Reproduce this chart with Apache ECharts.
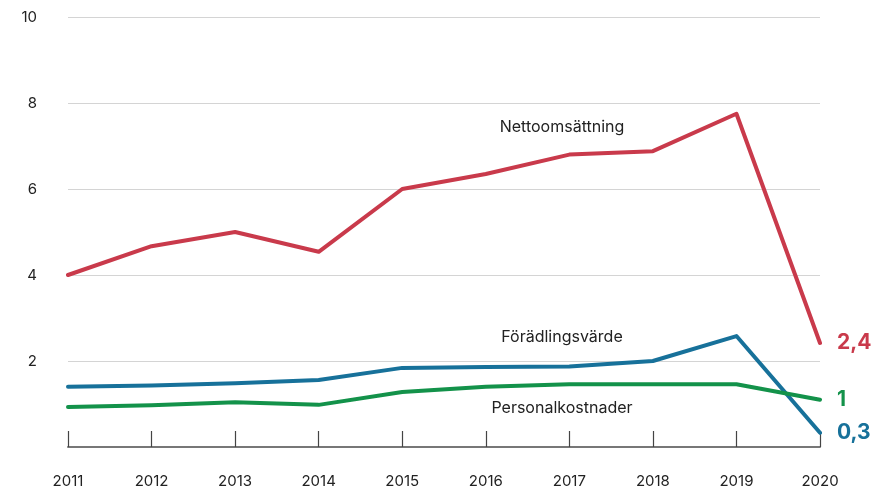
<!DOCTYPE html>
<html>
<head>
<meta charset="utf-8">
<script src="https://cdn.jsdelivr.net/npm/echarts@6/dist/echarts.min.js"></script>
<style>html,body{margin:0;padding:0;background:#fff;}#c{width:890px;height:489px;}</style>
</head>
<body>
<div id="c"></div>
<script>
var years = ['2011','2012','2013','2014','2015','2016','2017','2018','2019','2020'];
var nettoomsattning = [4.0, 4.67, 5.0, 4.54, 6.0, 6.35, 6.8, 6.88, 7.75, 2.42];
var foradlingsvarde = [1.4, 1.43, 1.48, 1.56, 1.84, 1.86, 1.87, 2.0, 2.58, 0.33];
var personalkostnader = [0.93, 0.97, 1.04, 0.98, 1.28, 1.4, 1.46, 1.46, 1.46, 1.1];
var endLabels = ['2,4', '0,3', '1'];
var seriesNames = ['Nettoomsättning', 'Förädlingsvärde', 'Personalkostnader'];
var colors = ['#c93a4b', '#17719a', '#13924a'];
var FONT = 'Inter, "Noto Sans", sans-serif';

var chart = echarts.init(document.getElementById('c'));
function mk(name, data, color, endText) {
  return {
    name: name, type: 'line', data: data, symbol: 'none', smooth: false,
    lineStyle: { color: color, width: 4, cap: 'round', join: 'round' },
    itemStyle: { color: color },
    endLabel: { show: true, formatter: function(){ return endText; }, color: color,
      fontFamily: FONT, fontWeight: 'bold', fontSize: 21, distance: 17 },
    emphasis: { disabled: true }, animation: false
  };
}
function nameLabel(text, x, y) {
  return { type: 'text', x: x, y: y, style: { text: text, fill: '#222', font: '16px ' + FONT,
    align: 'center', verticalAlign: 'middle' } };
}
chart.setOption({
  animation: false,
  grid: { left: 68, right: 70, top: 17, bottom: 42, containLabel: false },
  xAxis: {
    type: 'category', data: years, boundaryGap: false,
    axisLine: { show: true, lineStyle: { color: '#777', width: 2 } },
    axisTick: { show: true, inside: true, length: 16, lineStyle: { color: '#444', width: 1.2 } },
    axisLabel: { color: '#222', fontSize: 15, fontFamily: FONT, margin: 27 },
    splitLine: { show: false }
  },
  yAxis: {
    type: 'value', min: 0, max: 10, interval: 2,
    axisLine: { show: false }, axisTick: { show: false },
    axisLabel: { color: '#222', fontSize: 15, fontFamily: FONT, margin: 31,
      formatter: function(v){ return v === 0 ? '' : String(v); } },
    splitLine: { show: true, lineStyle: { color: '#d4d4d4', width: 1 } }
  },
  series: [
    mk(seriesNames[0], nettoomsattning, colors[0], endLabels[0]),
    mk(seriesNames[1], foradlingsvarde, colors[1], endLabels[1]),
    mk(seriesNames[2], personalkostnader, colors[2], endLabels[2])
  ],
  graphic: [
    nameLabel(seriesNames[0], 562, 127),
    nameLabel(seriesNames[1], 562, 337),
    nameLabel(seriesNames[2], 562, 408)
  ]
});
</script>
</body>
</html>
